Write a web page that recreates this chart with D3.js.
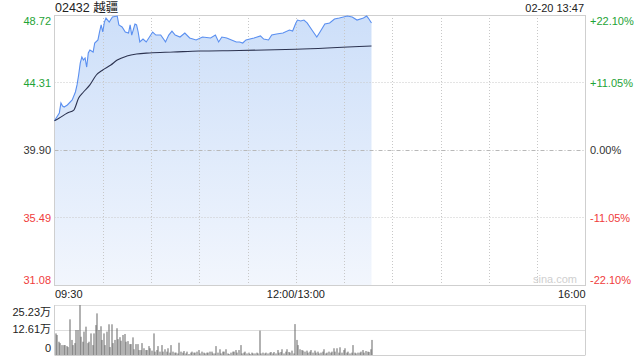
<!DOCTYPE html>
<html>
<head>
<meta charset="utf-8">
<script src="https://cdn.jsdelivr.net/npm/d3@7/dist/d3.min.js"></script>
<style>
  html, body { margin: 0; padding: 0; background: #fff; }
  svg { display: block; }
  text { font-family: "Liberation Sans", Arial, "Noto Sans CJK SC", sans-serif; }
</style>
</head>
<body>
<svg id="chart" width="640" height="360"></svg>
<script>
// ---------------- DATA ----------------
const title = "02432 越疆";
const stamp = "02-20 13:47";
const prevClose = 39.90;

const priceTicks = [48.72, 44.31, 39.90, 35.49, 31.08];
const pctTicks = ["+22.10%", "+11.05%", "0.00%", "-11.05%", "-22.10%"];

const timeLabels = ["09:30", "12:00/13:00", "16:00"];
const timeLabelMinutes = [0, 150, 330];

const volTicks = [25.23, 12.61, 0];
const volTickLabels = ["25.23万", "12.61万", "0"];

// price line (minute index, price)
const priceMinutes = [0,3,4,5,6,8,11,13,14,15,16,17,18,19,20,21,22,24,25,27,28,29,30,31,32,34,36,39,40,42,44,46,47,48,50,51,52,53,55,57,61,63,66,69,71,73,75,78,81,84,88,92,97,100,102,104,107,110,113,115,117,119,124,128,130,133,135,138,142,146,148,150,151,153,155,157,160,163,165,168,171,174,177,182,185,188,192,194,195,197];
const priceValues  = [41.81,42.32,42.97,42.77,42.71,42.84,43.17,43.69,44.15,44.80,45.58,45.98,45.78,45.91,45.32,46.24,46.43,46.30,46.89,47.09,47.61,48.07,47.61,48.26,48.52,48.26,48.59,48.65,48.07,47.94,47.61,47.54,48.07,47.41,48.13,48.07,47.61,46.96,47.15,46.96,47.61,47.41,47.41,46.96,47.41,47.67,47.41,47.28,47.54,47.22,47.09,47.28,47.22,47.41,46.96,47.28,47.22,47.09,46.96,46.96,46.89,47.09,47.22,47.35,47.15,47.09,47.41,47.48,47.54,47.74,47.67,48.20,48.39,48.33,48.39,48.20,47.74,47.28,47.61,48.13,48.20,48.46,48.52,48.65,48.59,48.39,48.52,48.65,48.52,48.20];

// average price line
const avgMinutes = [0,3,8,12,15,18,22,26,30,35,39,45,51,59,74,90,115,150,197];
const avgValues  = [41.81,41.99,42.32,42.51,43.30,43.69,44.15,44.80,45.13,45.45,45.78,46.04,46.17,46.24,46.30,46.37,46.40,46.48,46.69];

// per-minute volume (万 shares), index = minute since 09:30
const volumes = [
  10.9,10.1,6.7,6,5,5,5,4.5,4,18.0,7.6,5,6,12.6,12.6,25.2,9.2,6.7,11.8,14.3,
  6,6.7,10.9,5,10.9,15.1,21.0,12.6,14.5,7.6,10.9,5,11.8,15.5,4,15.5,6,7.6,13.5,8,
  9,7.2,10.1,10.6,6.7,7,5.5,5.5,8.9,2.9,5.5,5.5,2.5,2.5,6,3.4,2.5,2.5,4.5,3.4,
  2.2,10.9,1.7,2.5,4.5,1.7,5,1.7,2.9,1.7,3.4,1.2,5,1.7,1.2,1.2,0.8,6.2,1.7,1.2,
  2,0.8,1.7,0.5,1.2,1.7,1.2,1.2,1.7,2.5,0.8,1.7,1.2,0.8,1.2,1.2,1.7,1.7,0.8,0.8,
  4.5,1.2,2.9,0.8,1.7,1.7,2.9,0.8,0.5,1.2,1.7,1.7,2.5,1.2,2.5,5,0.8,1.2,1.7,0.8,
  1.2,0.5,1.2,0.8,0.8,1.2,0.8,
  12.3,0.8,1.2,0.8,1.2,0.8,1.2,1.5,0.8,1.5,0.8,2.5,1.2,1.5,2.9,0.8,1.7,2.9,1.5,1.2,
  2.2,0.8,15.6,7.6,5,2.9,2.5,2.2,1.7,2.2,1.2,1.7,2.5,1.2,2.2,1.2,1.7,0.8,1.2,1.7,
  2.9,0.8,1.2,1.7,1.2,1.7,3.4,1.7,3.4,1.2,3.9,1.2,2.5,3.4,1.2,1.7,0.8,1.2,5,1.2,
  0.8,1.2,1.2,1.7,2.5,1.2,2.0,1.7,1.5,2.9,7.6
];

// ---------------- LAYOUT ----------------
const L = 54.5, R = 585.5;
const PT = 15, PB = 285;
const VT = 305, VB = 355;
const green = "#1ea336", red = "#f03c3c", dark = "#333";

const svg = d3.select("#chart");
const x = d3.scaleLinear().domain([0, 330]).range([L, R]);
const y = d3.scaleLinear().domain([priceTicks[4], priceTicks[0]]).range([PB, PT]);
const yv = d3.scaleLinear().domain([0, volTicks[0]]).range([VB, VT]);

// gradient
const defs = svg.append("defs");
const grad = defs.append("linearGradient").attr("id", "fillGrad")
  .attr("x1", 0).attr("y1", 0).attr("x2", 0).attr("y2", 1);
grad.append("stop").attr("offset", "0%").attr("stop-color", "#cddff9");
grad.append("stop").attr("offset", "100%").attr("stop-color", "#f2f6fd");

// price area
const pts = priceMinutes.map((m, i) => [m, priceValues[i]]);
svg.append("path")
  .datum(pts)
  .attr("d", d3.area().x(d => x(d[0])).y0(PB).y1(d => y(d[1])))
  .attr("fill", "url(#fillGrad)")
  .attr("stroke", "none");

// grid lines (price)
const vMinutes = d3.range(30, 330, 30);
svg.append("g").selectAll("line").data(vMinutes).join("line")
  .attr("x1", d => Math.round(x(d)) + 0.5).attr("x2", d => Math.round(x(d)) + 0.5)
  .attr("y1", PT).attr("y2", PB)
  .attr("stroke", "#c8c8c8").attr("stroke-dasharray", "1,2");

svg.append("g").selectAll("line").data(priceTicks.slice(1, 4)).join("line")
  .attr("x1", L).attr("x2", R)
  .attr("y1", d => Math.round(y(d)) + 0.5).attr("y2", d => Math.round(y(d)) + 0.5)
  .attr("stroke", d => d === prevClose ? "#b8b8b8" : "#c8c8c8")
  .attr("stroke-dasharray", d => d === prevClose ? "4,2,1,2" : "1,2");

// borders
svg.append("rect")
  .attr("x", L).attr("y", PT + 0.5).attr("width", R - L).attr("height", PB - PT)
  .attr("fill", "none").attr("stroke", "#cfcfcf");

// price line & avg line
svg.append("path").datum(pts)
  .attr("d", d3.line().x(d => x(d[0])).y(d => y(d[1])))
  .attr("fill", "none").attr("stroke", "#5a8ff0").attr("stroke-width", 1.1);

const apts = avgMinutes.map((m, i) => [m, avgValues[i]]);
svg.append("path").datum(apts)
  .attr("d", d3.line().x(d => x(d[0])).y(d => y(d[1])).curve(d3.curveMonotoneX))
  .attr("fill", "none").attr("stroke", "#2c3350").attr("stroke-width", 1.1);

// left price labels
const lab = svg.append("g").attr("font-size", 11);
priceTicks.forEach((p, i) => {
  const yy = y(p);
  const baseY = i === 0 ? yy + 9.5 : (i === 4 ? yy - 1.5 : yy + 4);
  const col = p > prevClose ? green : (p < prevClose ? red : dark);
  lab.append("text").attr("x", 51).attr("y", baseY).attr("text-anchor", "end")
    .attr("fill", col).text(p.toFixed(2));
  lab.append("text").attr("x", 590).attr("y", baseY).attr("text-anchor", "start")
    .attr("fill", col).text(pctTicks[i]);
});

// title & timestamp
svg.append("text").attr("x", 55).attr("y", 11.5).attr("font-size", 12.5)
  .attr("fill", "#222").text(title);
svg.append("text").attr("x", 584).attr("y", 11.5).attr("font-size", 11)
  .attr("text-anchor", "end").attr("fill", "#222").text(stamp);

// watermark
svg.append("text").attr("x", 577).attr("y", 283).attr("font-size", 11)
  .attr("text-anchor", "end").attr("fill", "#cfcfcf").text("sina.com");

// time labels
timeLabels.forEach((t, i) => {
  const anchor = i === 0 ? "start" : (i === timeLabels.length - 1 ? "end" : "middle");
  svg.append("text").attr("x", x(timeLabelMinutes[i]) + (i === 0 ? 0.5 : 0))
    .attr("y", 297.5).attr("font-size", 11).attr("text-anchor", anchor)
    .attr("fill", "#222").text(t);
});

// volume grid
svg.append("g").selectAll("line").data(volTicks.slice(0, 2)).join("line")
  .attr("x1", L).attr("x2", R)
  .attr("y1", d => Math.round(yv(d)) + 0.5).attr("y2", d => Math.round(yv(d)) + 0.5)
  .attr("stroke", "#bdbdbd").attr("stroke-dasharray", "1,1");
svg.append("line").attr("x1", L).attr("x2", R).attr("y1", VB + 0.5).attr("y2", VB + 0.5)
  .attr("stroke", "#d0d0d0");
svg.append("line").attr("x1", L).attr("x2", L).attr("y1", VT).attr("y2", VB)
  .attr("stroke", "#cfcfcf");
svg.append("line").attr("x1", R).attr("x2", R).attr("y1", VT).attr("y2", VB)
  .attr("stroke", "#cfcfcf");

// volume bars
svg.append("g").selectAll("rect").data(volumes).join("rect")
  .attr("x", (d, i) => Math.round(x(i)) + 0.5)
  .attr("width", 1)
  .attr("y", d => yv(d))
  .attr("height", d => VB - yv(d))
  .attr("fill", "#666");

// volume labels
const vlabY = [311.5 + 4, 329 + 4, 348 + 4];
volTicks.forEach((v, i) => {
  svg.append("text").attr("x", 51).attr("y", vlabY[i]).attr("font-size", 11)
    .attr("text-anchor", "end").attr("fill", "#222").text(volTickLabels[i]);
});
</script>
</body>
</html>
